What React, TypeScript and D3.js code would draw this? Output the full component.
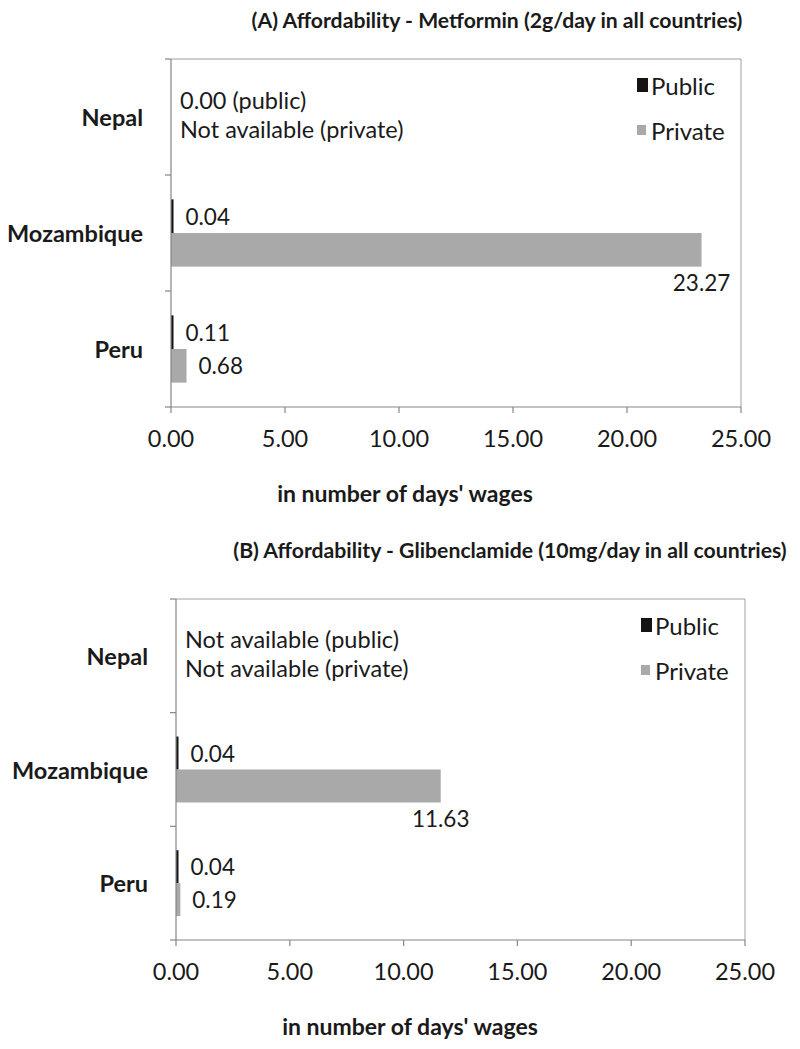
import * as d3 from 'd3';

// Affordability of diabetes medicines, in number of days' wages
const countries = ['Nepal', 'Mozambique', 'Peru'];

const metforminPublic: (number | null)[] = [0.0, 0.04, 0.11];
const metforminPrivate: (number | null)[] = [null, 23.27, 0.68];

const glibenclamidePublic: (number | null)[] = [null, 0.04, 0.04];
const glibenclamidePrivate: (number | null)[] = [null, 11.63, 0.19];

const metforminNepalNote = ['0.00 (public)', 'Not available (private)'];
const glibenclamideNepalNote = ['Not available (public)', 'Not available (private)'];

const xTicks = [0, 5, 10, 15, 20, 25];
const seriesNames = ['Public', 'Private'];

const FONT = 'Lato, "Open Sans", sans-serif';
const PUBLIC_COLOR = '#141414';
const PRIVATE_COLOR = '#a9a9a9';
const AXIS_COLOR = '#858585';
const TEXT_COLOR = '#1a1a1a';

interface PanelProps {
  title: string;
  publicValues: (number | null)[];
  privateValues: (number | null)[];
  nepalNote: string[];
  left: number;
  right: number;
  top: number;
  bottom: number;
  titleX: number;
  titleY: number;
}

function Panel({ title, publicValues, privateValues, nepalNote, left, right, top, bottom, titleX, titleY }: PanelProps) {
  const x = d3.scaleLinear().domain([0, 25]).range([left, right]);
  const y = d3.scaleBand<string>().domain(countries).range([top, bottom]);
  const bw = y.bandwidth();
  const barH = bw * 0.29;
  const fmt = d3.format('.2f');

  const barWidth = (v: number) => (v > 0 ? Math.max(2.5, x(v) - x(0)) : 0);

  return (
    <g>
      <text x={titleX} y={titleY} textAnchor="middle" dominantBaseline="central"
        fontSize={21.2} fontWeight="bold" fill={TEXT_COLOR}>{title}</text>

      {/* plot frame */}
      <line x1={left} x2={right} y1={top} y2={top} stroke="#a0a0a0" strokeWidth={1} />
      <line x1={right} x2={right} y1={top} y2={bottom} stroke="#a0a0a0" strokeWidth={1} />

      {/* bars */}
      {countries.map((c, i) => {
        const cy = (y(c) ?? 0) + bw / 2;
        const pub = publicValues[i];
        const pri = privateValues[i];
        return (
          <g key={c}>
            {pub != null && pub > 0 && (
              <rect x={x(0)} y={cy - barH} width={barWidth(pub)} height={barH} fill={PUBLIC_COLOR} />
            )}
            {pri != null && pri > 0 && (
              <rect x={x(0)} y={cy} width={barWidth(pri)} height={barH} fill={PRIVATE_COLOR} />
            )}
            {pub != null && pub > 0 && (
              <text x={x(0) + barWidth(pub) + 12} y={cy - barH / 2} dominantBaseline="central"
                fontSize={22.5} fill={TEXT_COLOR}>{fmt(pub)}</text>
            )}
            {pri != null && pri > 0 && (pri > 10 ? (
              <text x={x(pri)} y={cy + barH + 16} textAnchor="middle" dominantBaseline="central"
                fontSize={22.5} fill={TEXT_COLOR}>{fmt(pri)}</text>
            ) : (
              <text x={x(0) + barWidth(pri) + 12} y={cy + barH / 2} dominantBaseline="central"
                fontSize={22.5} fill={TEXT_COLOR}>{fmt(pri)}</text>
            ))}
          </g>
        );
      })}

      {/* Nepal note */}
      {nepalNote.map((t, k) => (
        <text key={t} x={left + 9} y={(y('Nepal') ?? 0) + bw / 2 + (k === 0 ? -17 : 12)}
          dominantBaseline="central" fontSize={23.5} fill={TEXT_COLOR}>{t}</text>
      ))}

      {/* y axis */}
      <line x1={left} x2={left} y1={top} y2={bottom} stroke={AXIS_COLOR} strokeWidth={1.2} />
      {[top, ...countries.map((c) => (y(c) ?? 0) + bw)].map((t, k) => (
        <line key={k} x1={left - 6} x2={left} y1={t} y2={t} stroke={AXIS_COLOR} strokeWidth={1.2} />
      ))}
      {countries.map((c) => (
        <text key={c} x={left - 28} y={(y(c) ?? 0) + bw / 2} textAnchor="end" dominantBaseline="central"
          fontSize={23.5} fontWeight="bold" fill={TEXT_COLOR}>{c}</text>
      ))}

      {/* x axis */}
      <line x1={left} x2={right} y1={bottom} y2={bottom} stroke={AXIS_COLOR} strokeWidth={1.2} />
      {xTicks.map((t) => (
        <g key={t}>
          <line x1={x(t)} x2={x(t)} y1={bottom} y2={bottom + 6} stroke={AXIS_COLOR} strokeWidth={1.2} />
          <text x={x(t)} y={bottom + 31} textAnchor="middle" dominantBaseline="central"
            fontSize={23.5} fill={TEXT_COLOR}>{fmt(t)}</text>
        </g>
      ))}
      <text x={left + 234} y={bottom + 86} textAnchor="middle" dominantBaseline="central"
        fontSize={23} fontWeight="bold" fill={TEXT_COLOR}>in number of days' wages</text>

      {/* legend */}
      {seriesNames.map((s, k) => {
        const ly = top + (k === 0 ? 26 : 71);
        return (
          <g key={s}>
            <rect x={right - 104} y={ly - (k === 0 ? 7 : 5)} width={k === 0 ? 11 : 9}
              height={k === 0 ? 14 : 10} fill={k === 0 ? PUBLIC_COLOR : PRIVATE_COLOR} />
            <text x={right - 90} y={ly} dominantBaseline="central" fontSize={24} fill={TEXT_COLOR}>{s}</text>
          </g>
        );
      })}
    </g>
  );
}

export default function App() {
  return (
    <svg width={800} height={1049} style={{ position: 'absolute', left: 0, top: 0, background: '#fff' }}
      fontFamily={FONT}>
      <Panel title="(A) Affordability - Metformin (2g/day in all countries)"
        publicValues={metforminPublic} privateValues={metforminPrivate} nepalNote={metforminNepalNote}
        left={171} right={741} top={59} bottom={407} titleX={497} titleY={20} />
      <Panel title="(B) Affordability - Glibenclamide (10mg/day in all countries)"
        publicValues={glibenclamidePublic} privateValues={glibenclamidePrivate} nepalNote={glibenclamideNepalNote}
        left={176} right={745} top={599} bottom={940} titleX={510} titleY={550} />
    </svg>
  );
}
